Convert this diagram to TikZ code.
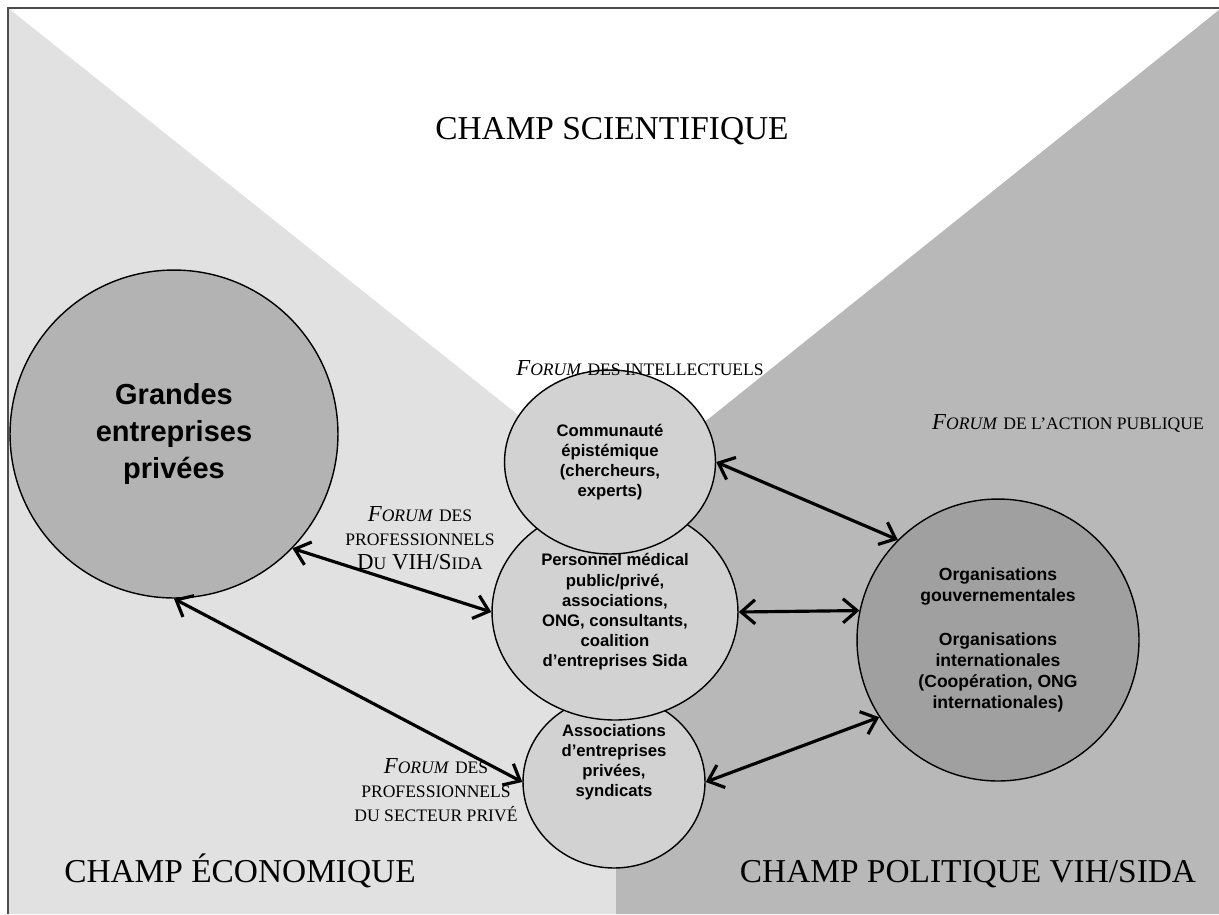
\documentclass[tikz,border=0pt]{standalone}
\usepackage{fontspec}
\setmainfont{Liberation Serif}
\setsansfont{Liberation Sans}
\usepackage{tikz}
\usetikzlibrary{shapes.geometric,arrows.meta}

\definecolor{zoneeco}{HTML}{E1E1E1}
\definecolor{zonepol}{HTML}{B8B8B8}
\definecolor{rondgris}{HTML}{B3B3B3}
\definecolor{rondfonce}{HTML}{A0A0A0}
\definecolor{rondclair}{HTML}{D2D2D2}

\newcommand{\petit}[1]{{\fontsize{10}{12}\selectfont #1}}

\begin{document}
\begin{tikzpicture}[x=0.02cm,y=-0.02cm,>={Straight Barb[length=2.8mm,width=4.8mm]}]
\tikzstyle{champ}=[font=\fontsize{19}{23}\selectfont, anchor=base]
\tikzstyle{forum}=[font=\fontsize{13}{13.6}\selectfont, align=center]
\tikzstyle{rond}=[draw=black, line width=0.8pt, inner sep=0pt, align=center, text=black]
\tikzstyle{grandrond}=[rond, circle, font=\sffamily\bfseries\fontsize{16.5}{21}\selectfont]
\tikzstyle{petitrond}=[rond, ellipse, fill=rondclair, font=\sffamily\bfseries\fontsize{9.5}{11.5}\selectfont]
\tikzstyle{lien}=[<->, line width=1.8pt]
\useasboundingbox (0,0) rectangle (1219,914);

% les trois champs
\fill[zoneeco] (8,8) -- (616,493) -- (616,914) -- (8,914) -- cycle;
\fill[zonepol] (1219,10) -- (616,493) -- (616,914) -- (1219,914) -- cycle;
\draw[line width=1.2pt, black!70] (8,914) -- (8,8) -- (1219,8);

\node[champ] (scient) at (612,139) {CHAMP SCIENTIFIQUE};
\node[champ] (econ) at (240,882) {CHAMP ÉCONOMIQUE};
\node[champ] (polit) at (968,882) {CHAMP POLITIQUE VIH/SIDA};

% les acteurs
\node[petitrond, minimum width=3.64cm, minimum height=3.44cm] (assoc) at (614,782) {};
\node[petitrond, draw=none, fill=none] (assoctxt) at (614,762) {Associations\\d'entreprises\\privées,\\syndicats};
\node[petitrond, minimum width=4.92cm, minimum height=4.32cm] (pers) at (615,612)
  {Personnel médical\\public/privé,\\associations,\\ONG, consultants,\\coalition\\d'entreprises Sida};
\node[petitrond, minimum width=4.22cm, minimum height=3.68cm] (comm) at (610,462)
  {Communauté\\épistémique\\(chercheurs,\\experts)};
\node[grandrond, fill=rondgris, minimum size=6.56cm] (grandes) at (174,434)
  {Grandes\\entreprises\\privées};
\node[rond, circle, fill=rondfonce, minimum size=5.64cm, font=\sffamily\bfseries\fontsize{10}{12}\selectfont] (org) at (998,640)
  {Organisations\\gouvernementales\\[13pt]Organisations\\internationales\\(Coopération, ONG\\internationales)};

% les forums
\node[forum] (fintel) at (640,368) {\textit{F\petit{ORUM}} \petit{DES INTELLECTUELS}};
\node[forum] (faction) at (1068,423) {\textit{F\petit{ORUM}} \petit{DE L'ACTION PUBLIQUE}};
\node[forum] (fvih) at (420,538) {\textit{F\petit{ORUM}} \petit{DES}\\\petit{PROFESSIONNELS}\\D\petit{U} VIH/S\petit{IDA}};
\node[forum] (fprive) at (436,790) {\textit{F\petit{ORUM}} \petit{DES}\\\petit{PROFESSIONNELS}\\\petit{DU SECTEUR PRIVÉ}};

\path[lien] (comm.east) edge (org.135)
            (pers.east) edge (org.168.5)
            (assoc.east) edge (org.213)
            (grandes.-44) edge (pers.west)
            (grandes.south) edge (assoc.west);
\end{tikzpicture}
\end{document}
